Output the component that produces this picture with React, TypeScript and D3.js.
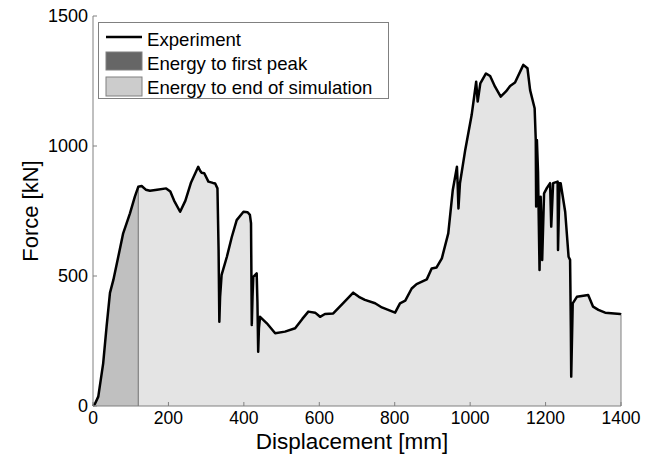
import React from "react";
import * as d3 from "d3";

const displacement = [0,5,14,27,36,45,54,67,80,98,111,120,129,140,151,170,194,205,215,231,245,260,279,284,288,295,306,318,324,330,333,335,337,341,355,368,381,399,410,416,419,421,423,425,434,436,438,440,443,461,483,509,536,555,571,589,602,615,637,664,690,705,721,748,766,801,814,828,845,858,885,898,911,925,942,954,965,967,969,973,987,1004,1016,1020,1027,1042,1053,1066,1081,1095,1106,1119,1141,1152,1159,1171,1174,1175,1177,1180,1184,1187,1191,1196,1204,1212,1215,1220,1232,1233,1237,1240,1252,1261,1265,1267,1268,1272,1283,1313,1326,1340,1358,1398,1400];
const force = [0,8,36,164,305,435,485,574,664,741,805,843,846,832,828,832,837,825,790,747,790,860,920,905,897,895,863,858,856,837,600,324,420,504,574,650,715,747,745,735,703,312,420,497,510,400,209,300,343,318,280,286,299,335,363,359,343,354,356,397,436,420,408,395,379,359,395,405,452,469,487,529,533,568,664,831,920,850,760,857,985,1119,1247,1171,1241,1279,1269,1228,1190,1210,1231,1244,1312,1299,1215,1145,1023,767,1023,900,523,805,562,818,840,857,690,857,863,600,857,857,747,574,562,300,113,395,420,427,382,370,359,354,352];
const firstPeakDisp = 120;
const xTicks = [0,200,400,600,800,1000,1200,1400];
const yTicks = [0,500,1000,1500];
const legendLabels = ["Experiment","Energy to first peak","Energy to end of simulation"];

export default function App() {
  const left = 93, right = 621, top = 16, bottom = 406;
  const x = d3.scaleLinear().domain([0, 1400]).range([left, right]);
  const y = d3.scaleLinear().domain([0, 1500]).range([bottom, top]);
  const pts = displacement.map((d, i) => [d, force[i]] as [number, number]);
  const firstPts = pts.filter((p) => p[0] <= firstPeakDisp);
  const area = d3.area<[number, number]>().x((d) => x(d[0])).y0(y(0)).y1((d) => y(d[1]));
  const line = d3.line<[number, number]>().x((d) => x(d[0])).y((d) => y(d[1]));
  const font = "Liberation Sans, Arial, sans-serif";
  const lastF = force[force.length - 1];
  const peakF = firstPts[firstPts.length - 1][1];
  return (
    <svg width={657} height={456} style={{ position: "absolute", left: 0, top: 0, background: "#fff" }} fontFamily={font}>
      <path d={area(pts) || ""} fill="#e4e4e4" stroke="none" />
      <line x1={x(1400)} x2={x(1400)} y1={y(0)} y2={y(lastF)} stroke="#808080" strokeWidth={1} />
      <path d={area(firstPts) || ""} fill="#c0c0c0" stroke="none" />
      <line x1={x(firstPeakDisp)} x2={x(firstPeakDisp)} y1={y(0)} y2={y(peakF)} stroke="#707070" strokeWidth={1} />
      <path d={line(pts) || ""} fill="none" stroke="#000" strokeWidth={2.5} strokeLinejoin="round" />
      {/* axes */}
      <line x1={left} x2={left} y1={top} y2={bottom} stroke="#808080" strokeWidth={1} />
      <line x1={left} x2={right} y1={bottom} y2={bottom} stroke="#808080" strokeWidth={1} />
      {xTicks.map((t) => (
        <g key={"x" + t}>
          <line x1={x(t)} x2={x(t)} y1={bottom} y2={bottom - 4} stroke="#808080" />
          <text x={x(t)} y={bottom + 18} fontSize={17.5} textAnchor="middle" fill="#000">{t}</text>
        </g>
      ))}
      {yTicks.map((t) => (
        <g key={"y" + t}>
          <line x1={left} x2={left + 4} y1={y(t)} y2={y(t)} stroke="#808080" />
          <text x={left - 5} y={y(t) + 6} fontSize={18} textAnchor="end" fill="#000">{t}</text>
        </g>
      ))}
      <text x={(left + right) / 2 - 5} y={449} fontSize={22.5} textAnchor="middle" fill="#000">Displacement [mm]</text>
      <text transform={`translate(38, ${(top + bottom) / 2}) rotate(-90)`} fontSize={22} textAnchor="middle" fill="#000">Force [kN]</text>
      {/* legend */}
      <rect x={98.5} y={22.5} width={290} height={76} fill="#fff" stroke="#808080" />
      <line x1={106} x2={142} y1={37} y2={37} stroke="#000" strokeWidth={2.5} />
      <rect x={106} y={52} width={36} height={18} fill="#666" stroke="#808080" />
      <rect x={106} y={77} width={36} height={19} fill="#ccc" stroke="#808080" />
      {legendLabels.map((l, i) => (
        <text key={l} x={147} y={[46, 70, 94][i]} fontSize={18.6} fill="#000">{l}</text>
      ))}
    </svg>
  );
}
